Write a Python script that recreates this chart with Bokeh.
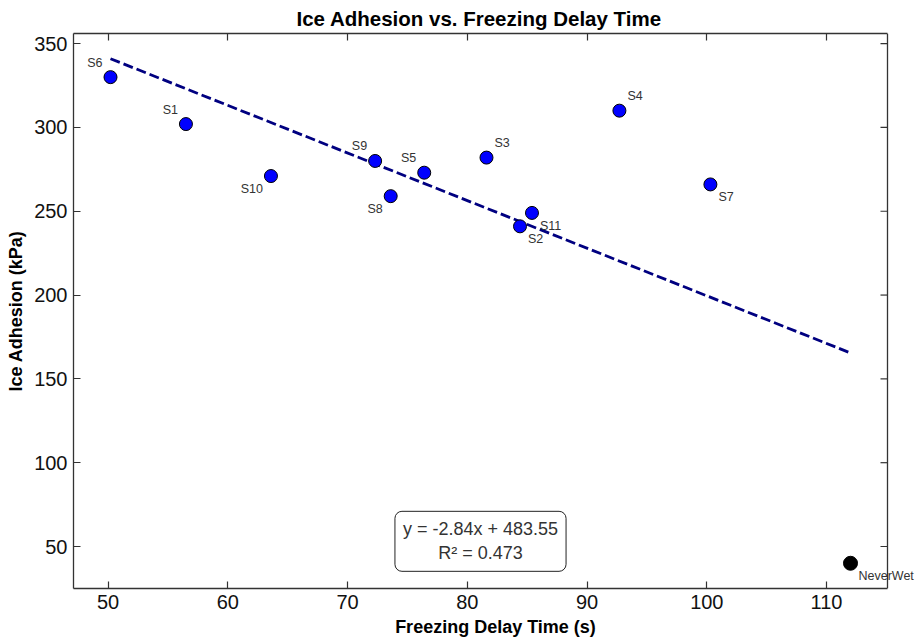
import numpy as np
from bokeh.plotting import figure
from bokeh.models import Range1d, LinearAxis, Label
from bokeh.embed import file_html
from bokeh.resources import INLINE

# ---- data ----
samples = ["S6", "S1", "S10", "S9", "S8", "S5", "S3", "S4", "S7", "S11", "S2"]
delay_time = [50.2, 56.5, 63.6, 72.3, 73.6, 76.4, 81.6, 92.7, 100.3, 85.4, 84.4]
adhesion = [330, 302, 271, 280, 259, 273, 282, 310, 266, 249, 241]
ref_name = ["NeverWet"]
ref_time = [112.0]
ref_adhesion = [40]
slope = -2.84
intercept = 483.55
r_squared = 0.473
x_ticks = [50, 60, 70, 80, 90, 100, 110]
y_ticks = [50, 100, 150, 200, 250, 300, 350]

# label placement (style): horizontal side and vertical side per sample
h_side = {"S6": "l", "S1": "l", "S10": "l", "S9": "l", "S8": "l", "S5": "l",
          "S3": "r", "S4": "r", "S7": "r", "S11": "r", "S2": "r", "NeverWet": "r"}
v_side = {"S6": "u", "S1": "u", "S10": "d", "S9": "u", "S8": "d", "S5": "u",
          "S3": "u", "S4": "u", "S7": "d", "S11": "d", "S2": "d", "NeverWet": "d"}

FONT = "Liberation Sans"
SPINE = "#333333"
W, H = 917, 639
BL, BT, BB = 73, 32, 50
BOX_W = 814                      # width of the drawn axes box in px
FRAME_W = W - BL                 # frame reaches the right edge so labels are not clipped
TICK = 7

all_x = delay_time + ref_time
fit_x = [min(all_x), max(all_x)]
fit_y = [slope * v + intercept for v in fit_x]
all_y = adhesion + ref_adhesion + fit_y
xpad = 0.05 * (max(all_x) - min(all_x))
ypad = 0.05 * (max(all_y) - min(all_y))
x0, x1 = min(all_x) - xpad, max(all_x) + xpad
y0, y1 = min(all_y) - ypad, max(all_y) + ypad
xr = Range1d(x0, x0 + (x1 - x0) * FRAME_W / BOX_W)
yr = Range1d(y0, y1)

p = figure(width=W, height=H, x_range=xr, y_range=yr,
           output_backend="svg", toolbar_location=None,
           min_border_left=BL, min_border_right=0, min_border_top=BT, min_border_bottom=BB)
p.title.text = "Ice Adhesion vs. Freezing Delay Time"
p.title.align = "left"
p.title.offset = 223
p.title.text_font = FONT
p.title.text_font_size = "20.5px"
p.title.text_font_style = "bold"
p.title.text_color = "black"
p.title.standoff = 8
p.grid.visible = False
p.outline_line_color = None
p.background_fill_color = "white"
p.border_fill_color = "white"

p.xaxis.axis_label = "Freezing Delay Time (s)"
p.yaxis.axis_label = "Ice Adhesion (kPa)"
p.xaxis.ticker = x_ticks
p.yaxis.ticker = y_ticks

extra_top = LinearAxis(ticker=x_ticks)
p.add_layout(extra_top, "above")

for ax in p.xaxis + p.yaxis:
    ax.axis_line_color = SPINE
    ax.axis_line_width = 1.3
    ax.major_tick_in = TICK
    ax.major_tick_out = 0
    ax.minor_tick_line_color = None
    ax.major_tick_line_color = SPINE
    ax.major_tick_line_width = 1.2
    ax.major_label_text_font = FONT
    ax.major_label_text_font_size = "20px"
    ax.major_label_text_color = "#111111"
    ax.major_label_standoff = 6
    ax.axis_label_text_font = FONT
    ax.axis_label_text_font_size = "18px"
    ax.axis_label_text_font_style = "bold"
    ax.axis_label_text_color = "black"
    ax.axis_label_standoff = 5
for ax in p.xaxis:
    ax.bounds = (x0, x1)
extra_top.major_label_text_font_size = "0px"
extra_top.major_label_text_color = None
extra_top.major_label_standoff = 0

# right spine and its inward ticks
tick_dx = TICK * (x1 - x0) / BOX_W
p.segment(x0=[x1], y0=[y0], x1=[x1], y1=[y1], line_color=SPINE, line_width=1.3)
p.segment(x0=[x1 - tick_dx] * len(y_ticks), y0=y_ticks, x1=[x1] * len(y_ticks), y1=y_ticks,
          line_color=SPINE, line_width=1.2)

# regression line
p.line(fit_x, fit_y, line_color="#000080", line_width=2.8, line_dash="10 4")

# points
p.scatter(delay_time, adhesion, size=13, fill_color="#0000ff", line_color="black", line_width=1)
p.scatter(ref_time, ref_adhesion, size=14, fill_color="black", line_color="black", line_width=1)

# point labels
for n, xv, yv in zip(samples + ref_name, delay_time + ref_time, adhesion + ref_adhesion):
    left = h_side[n] == "l"
    up = v_side[n] == "u"
    p.add_layout(Label(x=xv, y=yv, text=n,
                       text_align="right" if left else "left", text_baseline="middle",
                       x_offset=-8 if left else 8, y_offset=14.5 if up else -13,
                       text_font=FONT, text_font_size="12.5px", text_color="#333333"))

eq_text = f"y = {slope:.2f}x + {intercept:.2f}\nR\u00b2 = {r_squared:.3f}"
eq = Label(x=(x0 + x1) / 2, y=y0 + 0.085 * (y1 - y0),
           text=eq_text, text_align="center", text_baseline="middle",
           text_font=FONT, text_font_size="18px", text_color="#333333",
           background_fill_color="white", border_line_color="#222222",
           border_line_width=1, padding=8, border_radius=7)
p.add_layout(eq)

open("out.html", "w").write(file_html(p, INLINE))
